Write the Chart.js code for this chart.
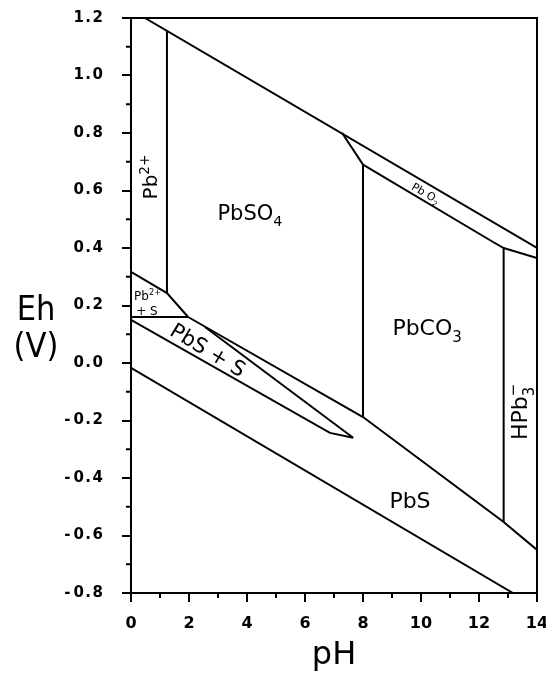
<!DOCTYPE html>
<html><head><meta charset="utf-8">
<script src="https://cdn.jsdelivr.net/npm/chart.js@4.4.1/dist/chart.umd.min.js"></script>
<style>html,body{margin:0;padding:0;background:#fff;}canvas{display:block;}</style>
</head><body>
<canvas id="c" width="546" height="673"></canvas>
<script>
// ---- tick values ----
const xMajorTicks = [0, 2, 4, 6, 8, 10, 12, 14];
const xMinorTicks = [1, 3, 5, 7, 9, 11, 13];
const yMajorTicks = [-0.8, -0.6, -0.4, -0.2, 0.0, 0.2, 0.4, 0.6, 0.8, 1.0, 1.2];
const yMinorTicks = [-0.7, -0.5, -0.3, -0.1, 0.1, 0.3, 0.5, 0.7, 0.9, 1.1];

// ---- stability-field boundaries (pH, Eh in V) ----
const o2Water_pH = [0.48, 14];          const o2Water_Eh = [1.20, 0.40];
const pb2PbSO4_pH = [1.24, 1.24];       const pb2PbSO4_Eh = [1.155, 0.243];
const pbSO4PbO2_pH = [7.28, 8.0];       const pbSO4PbO2_Eh = [0.80, 0.69];
const pbO2Lower_pH = [8.0, 12.5, 12.85, 14]; const pbO2Lower_Eh = [0.69, 0.42, 0.40, 0.365];
const pbSO4PbCO3_pH = [8.0, 8.0];       const pbSO4PbCO3_Eh = [0.69, -0.188];
const pbCO3HPbO2_pH = [12.85, 12.85];   const pbCO3HPbO2_Eh = [0.40, -0.553];
const pb2Lower_pH = [0, 1.24, 1.97];    const pb2Lower_Eh = [0.317, 0.243, 0.16];
const pb2S_pH = [0, 1.97];              const pb2S_Eh = [0.16, 0.16];
const sulfideUpper_pH = [1.97, 8.0, 12.85, 14]; const sulfideUpper_Eh = [0.16, -0.188, -0.553, -0.65];
const wedgeUpper_pH = [2.55, 7.66];     const wedgeUpper_Eh = [0.125, -0.26];
const wedgeLower_pH = [0, 6.86, 7.66];  const wedgeLower_Eh = [0.15, -0.243, -0.26];
const h2Water_pH = [0, 13.17];          const h2Water_Eh = [-0.017, -0.80];

const boundaries = [
  [o2Water_pH, o2Water_Eh], [pb2PbSO4_pH, pb2PbSO4_Eh], [pbSO4PbO2_pH, pbSO4PbO2_Eh],
  [pbO2Lower_pH, pbO2Lower_Eh], [pbSO4PbCO3_pH, pbSO4PbCO3_Eh], [pbCO3HPbO2_pH, pbCO3HPbO2_Eh],
  [pb2Lower_pH, pb2Lower_Eh], [pb2S_pH, pb2S_Eh], [sulfideUpper_pH, sulfideUpper_Eh],
  [wedgeUpper_pH, wedgeUpper_Eh], [wedgeLower_pH, wedgeLower_Eh], [h2Water_pH, h2Water_Eh]
];

// ---- field labels (anchor = centre of baseline, in data units) ----
const fieldLabels = [
  {parts:[{t:'Pb'},{t:'2',sup:1},{t:'+',sup:1}], pH:0.90, Eh:0.647, size:20, angle:-90},
  {parts:[{t:'PbSO'},{t:'4',sub:1}], pH:4.10, Eh:0.497, size:21, angle:0},
  {parts:[{t:'PbCO'},{t:'3',sub:1}], pH:10.21, Eh:0.097, size:22, angle:0},
  {parts:[{t:'PbS'}], pH:9.62, Eh:-0.504, size:22, angle:0},
  {parts:[{t:'HPb'},{t:'3',sub:1,stay:1},{t:'\u2212',sup:1}], pH:13.66, Eh:-0.17, size:22, angle:-90},
  {parts:[{t:'PbS + S'}], pH:2.53, Eh:0.024, size:21, angle:31},
  {parts:[{t:'Pb O'},{t:'2',sub:1}], pH:10.10, Eh:0.579, size:11, angle:30},
  {parts:[{t:'Pb'},{t:'2',sup:1},{t:'+',sup:1}], pH:0.57, Eh:0.219, size:12, angle:0},
  {parts:[{t:'+ S'}], pH:0.55, Eh:0.167, size:12, angle:0}
];

const FAMILY = '"DejaVu Sans", "Liberation Sans", sans-serif';
const HS = '\u200A';

function drawRich(ctx, parts, x, y, size, angle) {
  ctx.save();
  ctx.translate(x, y);
  ctx.rotate(angle * Math.PI / 180);
  ctx.textAlign = 'left';
  ctx.textBaseline = 'alphabetic';
  ctx.fillStyle = '#000';
  let total = 0;
  const items = parts.map(p => {
    const s = (p.sub || p.sup) ? size * 0.68 : size;
    ctx.font = `${s}px ${FAMILY}`;
    const w = ctx.measureText(p.t).width;
    if (!p.stay) total += w;
    return {p, s, w};
  });
  let cx = -total / 2;
  for (const it of items) {
    ctx.font = `${it.s}px ${FAMILY}`;
    const dy = it.p.sub ? size * 0.3 : (it.p.sup ? -size * 0.42 : 0);
    ctx.fillText(it.p.t, cx, dy);
    if (!it.p.stay) cx += it.w;
  }
  ctx.restore();
}

const decorPlugin = {
  id: 'decor',
  afterDraw(chart) {
    const {ctx, chartArea: a, scales: {x, y}} = chart;
    ctx.save();
    ctx.strokeStyle = '#000';
    ctx.lineWidth = 2;
    ctx.strokeRect(a.left, a.top, a.right - a.left, a.bottom - a.top);
    // minor ticks
    ctx.beginPath();
    xMinorTicks.forEach(v => { const px = x.getPixelForValue(v); ctx.moveTo(px, a.bottom); ctx.lineTo(px, a.bottom + 5); });
    yMinorTicks.forEach(v => { const py = y.getPixelForValue(v); ctx.moveTo(a.left, py); ctx.lineTo(a.left - 5, py); });
    ctx.stroke();
    // field labels
    fieldLabels.forEach(l => drawRich(ctx, l.parts, x.getPixelForValue(l.pH), y.getPixelForValue(l.Eh), l.size, l.angle));
    // axis titles
    ctx.fillStyle = '#000';
    ctx.textAlign = 'center';
    ctx.textBaseline = 'alphabetic';
    ctx.font = `34px "DejaVu Sans Condensed", ${FAMILY}`;
    ctx.fillText('Eh', 36, 320);
    ctx.fillText('(V)', 36, 357);
    ctx.font = `32px ${FAMILY}`;
    ctx.fillText('pH', (a.left + a.right) / 2, 664);
    ctx.restore();
  }
};

new Chart(document.getElementById('c'), {
  type: 'scatter',
  data: {
    datasets: boundaries.map(([px, ey]) => ({
      data: px.map((v, i) => ({x: v, y: ey[i]})),
      showLine: true,
      borderColor: '#000',
      borderWidth: 2,
      pointRadius: 0,
      pointHoverRadius: 0,
      fill: false,
      tension: 0
    }))
  },
  options: {
    responsive: false,
    animation: false,
    devicePixelRatio: 1,
    layout: {padding: {left: 0, top: 18, right: 9, bottom: 0}},
    plugins: {legend: {display: false}, tooltip: {enabled: false}},
    scales: {
      x: {
        type: 'linear', min: 0, max: 14,
        afterBuildTicks: s => { s.ticks = xMajorTicks.map(v => ({value: v})); },
        afterFit: s => { s.height = 80; s.paddingLeft = 0; s.paddingRight = 0; },
        ticks: {
          maxRotation: 0, autoSkip: false, padding: 12, color: '#000',
          font: {family: FAMILY, weight: 'bold', size: 16},
          callback: v => String(v)
        },
        grid: {drawOnChartArea: false, drawTicks: true, tickLength: 9, color: '#000', lineWidth: 2},
        border: {display: true, color: '#000', width: 2}
      },
      y: {
        type: 'linear', min: -0.8, max: 1.2,
        afterBuildTicks: s => { s.ticks = yMajorTicks.map(v => ({value: v})); },
        afterFit: s => { s.width = 131; s.paddingTop = 0; s.paddingBottom = 0; },
        ticks: {
          autoSkip: false, padding: 19, color: '#000',
          font: {family: FAMILY, weight: 'bold', size: 15},
          callback: v => {
            const s = Math.abs(v).toFixed(1).split('').join(HS);
            return v < -1e-9 ? '-' + HS + HS + s : s;
          }
        },
        grid: {drawOnChartArea: false, drawTicks: true, tickLength: 9, color: '#000', lineWidth: 2},
        border: {display: true, color: '#000', width: 2}
      }
    }
  },
  plugins: [decorPlugin]
});
</script>
</body></html>
